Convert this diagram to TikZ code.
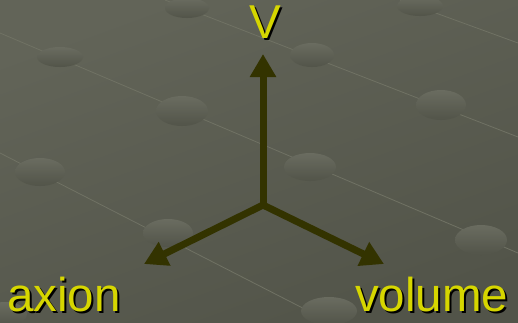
\documentclass[tikz,border=0pt]{standalone}
\usepackage{fontspec}
\setmainfont{Liberation Sans}
\usetikzlibrary{arrows.meta}
\usepackage{xcolor}
\definecolor{bgtop}{RGB}{98,100,88}
\definecolor{bgbot}{RGB}{82,84,73}
\definecolor{dimtop}{RGB}{106,108,96}
\definecolor{dimbot}{RGB}{82,84,73}
\definecolor{gridln}{RGB}{112,114,100}
\definecolor{axisol}{RGB}{51,51,0}
\definecolor{lblyel}{RGB}{214,214,0}
\newcommand\shtext[1]{\rlap{\hspace{2pt}\raisebox{-2pt}{\color{black}#1}}#1}

\begin{document}
\begin{tikzpicture}[x=1pt,y=-1pt,>={Triangle[length=23pt,width=25pt]},
  axis/.style={->,draw=axisol,line width=7pt},
  lbl/.style={text=lblyel,font=\fontsize{47.5}{50}\selectfont,inner sep=0pt}]
\useasboundingbox (0,0) rectangle (518,322);
% textured background
\begin{scope}
\clip (0,0) rectangle (518,322);
\shade[top color=bgtop,bottom color=bgbot,shading angle=20] (0,0) rectangle (518,322);
\draw[gridln,line width=0.8pt] (0,33) -- (518,253);
\draw[gridln,line width=0.8pt] (0,153) -- (330,322);
\draw[gridln,line width=0.8pt] (165,0) -- (518,137);
\draw[gridln,line width=0.8pt] (400,0) -- (518,43);
\foreach \cx/\cy/\rx/\ry in {187/8/22/10,420/6/23/10,60/57/23/10,312/55/22/12,
  182/111/26/15,441/105/25/15,40/172/25/14,310/167/26/14,168/233/25/14,
  481/240/26/15,329/311/28/14,5/314/22/12}
  \shade[top color=dimtop,bottom color=dimbot] (\cx,\cy) ellipse[x radius=\rx,y radius=\ry];
\end{scope}
% axes
\coordinate (o) at (263,205);
\coordinate (up) at (263,54);
\coordinate (lt) at (144,264);
\coordinate (rt) at (384,264);
\draw[axis] (o) -- (up);
\draw[axis] (o) -- (lt);
\draw[axis] (o) -- (rt);
\node[lbl,anchor=base] (V) at (265,38) {\shtext{V}};
\node[lbl,anchor=base west] (axion) at (7,311) {\shtext{axion}};
\node[lbl,anchor=base west] (volume) at (355,311) {\shtext{volume}};
\end{tikzpicture}
\end{document}
